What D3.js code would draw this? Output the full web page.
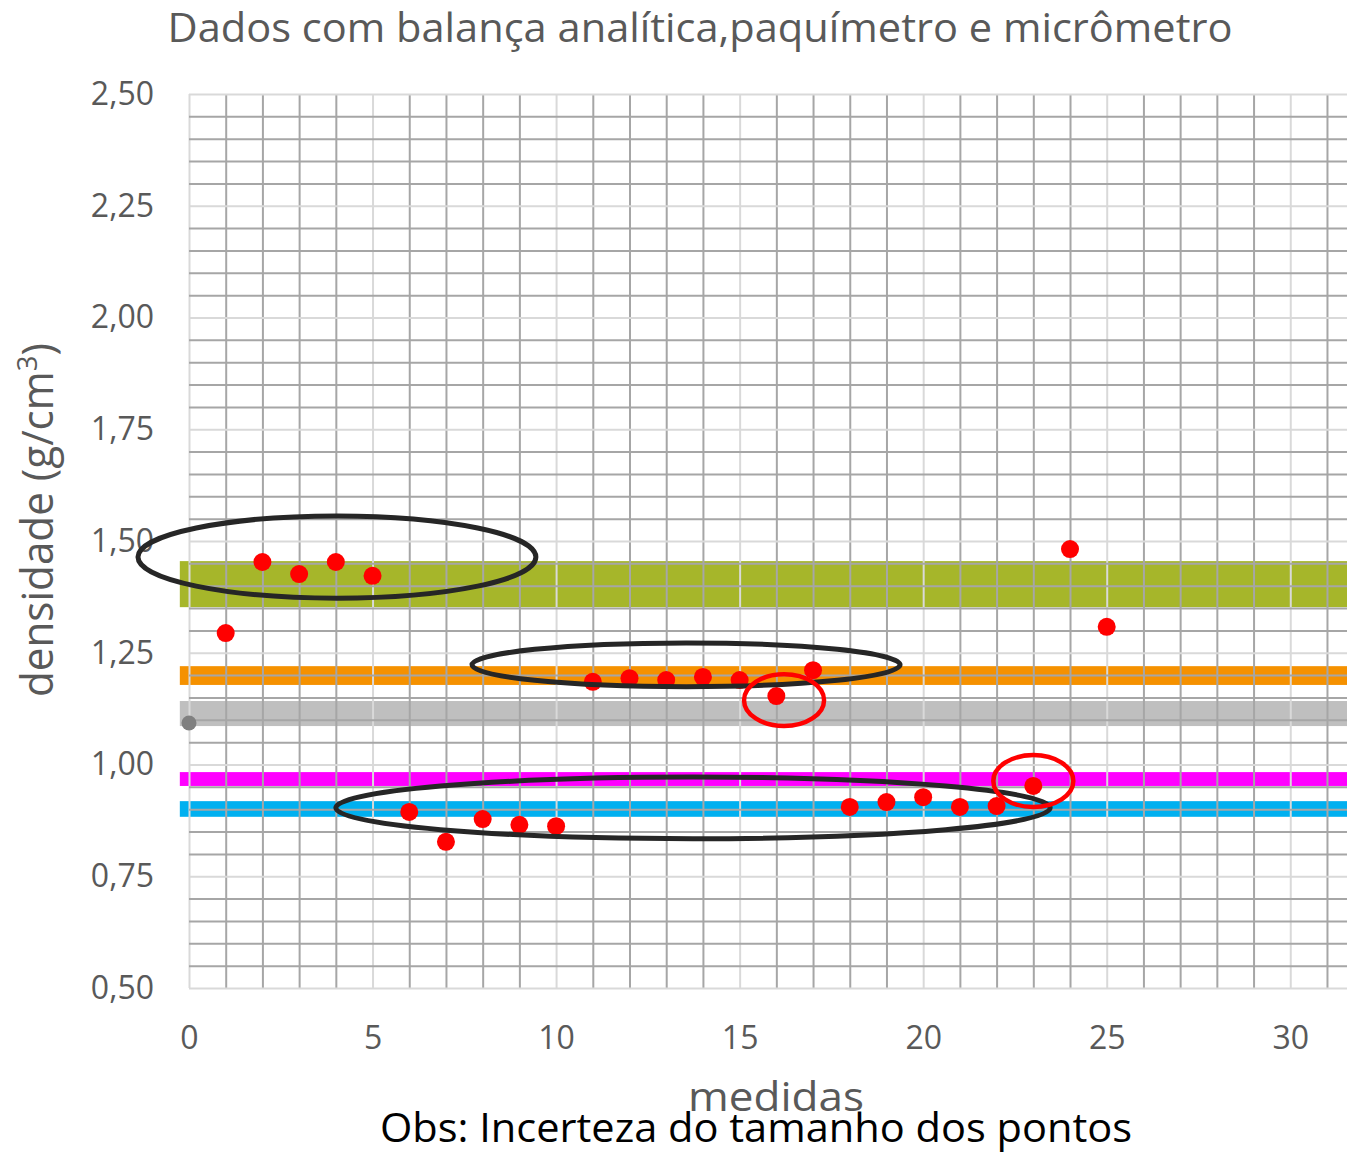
<!DOCTYPE html>
<html>
<head>
<meta charset="utf-8">
<script src="https://cdn.jsdelivr.net/npm/d3@7"></script>
<style>
  body { margin: 0; background: #fff; }
  svg { display: block; font-family: "Open Sans", sans-serif; }
</style>
</head>
<body>
<svg id="plot"></svg>
<script>
// dados
const medidas = d3.range(1, 26);
const densidades = [1.294, 1.453, 1.426, 1.453, 1.422, 0.894, 0.827, 0.878, 0.865, 0.862,
  1.185, 1.193, 1.189, 1.196, 1.189, 1.153, 1.211, 0.905, 0.916, 0.927,
  0.905, 0.907, 0.952, 1.482, 1.308];
const pontoRef = [0, 1.093];

// faixas horizontais (min, max)
const faixaMin = [1.352, 1.178, 1.086, 0.952, 0.883];
const faixaMax = [1.455, 1.220, 1.142, 0.983, 0.918];
const faixaCores = ["#a6b62a", "#f59100", "#bfbfbf", "#ff00ff", "#00b0f0"];

// elipses de anotacao (centro x, centro y, raio x, raio y)
const elipsesPretas = [[4.03, 1.464, 5.42, 0.092], [13.54, 1.223, 5.83, 0.049], [13.73, 0.903, 9.73, 0.069]];
const elipsesVermelhas = [[16.21, 1.144, 1.09, 0.058], [23.0, 0.963, 1.09, 0.058]];

const xTicks = [0, 5, 10, 15, 20, 25, 30];
const yTicks = [0.5, 0.75, 1.0, 1.25, 1.5, 1.75, 2.0, 2.25, 2.5];

let dimensions = {
  width: 1347,
  height: 1152,
  left: 189,
  top: 94,
  bottom: 988,
  right: 1349,
};

const svg = d3.select("#plot")
  .attr("width", dimensions.width)
  .attr("height", dimensions.height);

const x = d3.scaleLinear().domain([0, 31.6]).range([dimensions.left, dimensions.right]);
const y = d3.scaleLinear().domain([0.5, 2.5]).range([dimensions.bottom, dimensions.top]);

const br = d3.formatLocale({ decimal: ",", thousands: ".", grouping: [3], currency: ["", ""] });

// faixas
svg.append("g").selectAll("rect")
  .data(faixaMin)
  .join("rect")
  .attr("x", x(-0.25))
  .attr("width", dimensions.width - x(-0.25))
  .attr("y", (d, i) => y(faixaMax[i]))
  .attr("height", (d, i) => y(d) - y(faixaMax[i]))
  .attr("fill", (d, i) => faixaCores[i]);

// grade
const gridH = dimensions.bottom - dimensions.top;
const gridW = dimensions.right - dimensions.left;
const isMajorX = (v) => Math.abs(v % 5) < 1e-6;
const isMajorY = (v) => Math.abs(((v - 0.5) / 0.25) - Math.round((v - 0.5) / 0.25)) < 1e-6;

const gx = svg.append("g")
  .attr("transform", `translate(0, ${dimensions.bottom})`)
  .call(d3.axisBottom(x).tickValues(d3.range(0, 32)).tickSize(-gridH).tickFormat(""));
gx.select(".domain").remove();
gx.selectAll("line")
  .attr("stroke", (d) => isMajorX(d) ? "#d9d9d9" : "#a6a6a6")
  .attr("stroke-width", 2);

const gy = svg.append("g")
  .attr("transform", `translate(${dimensions.left}, 0)`)
  .call(d3.axisLeft(y).tickValues(d3.range(0, 41).map((i) => 0.5 + i * 0.05)).tickSize(-gridW).tickFormat(""));
gy.select(".domain").remove();
gy.selectAll("line")
  .attr("stroke", (d) => isMajorY(d) ? "#d9d9d9" : "#a6a6a6")
  .attr("stroke-width", 2);

// rotulos dos eixos
const ax = svg.append("g")
  .attr("transform", `translate(0, ${dimensions.bottom})`)
  .call(d3.axisBottom(x).tickValues(xTicks).tickSize(0).tickPadding(38).tickFormat(d3.format("d")));
ax.select(".domain").remove();
ax.selectAll("text").attr("font-size", 32).attr("fill", "#595959").attr("font-family", "Open Sans");

const ay = svg.append("g")
  .attr("transform", `translate(${dimensions.left}, 0)`)
  .call(d3.axisLeft(y).tickValues(yTicks).tickSize(0).tickPadding(35).tickFormat(br.format(".2f")));
ay.select(".domain").remove();
ay.selectAll("text").attr("font-size", 32).attr("fill", "#595959").attr("font-family", "Open Sans");

// ponto de referencia
svg.append("circle")
  .attr("cx", x(pontoRef[0]))
  .attr("cy", y(pontoRef[1]))
  .attr("r", 7.5)
  .attr("fill", "#808080");

// medidas
svg.append("g").selectAll("circle")
  .data(densidades)
  .join("circle")
  .attr("cx", (d, i) => x(medidas[i]))
  .attr("cy", (d) => y(d))
  .attr("r", 9)
  .attr("fill", "#ff0000");

// anotacoes
const elipse = (g, data, cor, largura) => {
  g.selectAll("ellipse")
    .data(data)
    .join("ellipse")
    .attr("cx", (d) => x(d[0]))
    .attr("cy", (d) => y(d[1]))
    .attr("rx", (d) => x(d[2]) - x(0))
    .attr("ry", (d) => y(0.5) - y(0.5 + d[3]))
    .attr("fill", "none")
    .attr("stroke", cor)
    .attr("stroke-width", largura);
};
elipse(svg.append("g"), elipsesPretas, "#262626", 5);
elipse(svg.append("g"), elipsesVermelhas, "#ff0000", 4.5);

// titulos
svg.append("text")
  .attr("x", 700).attr("y", 42)
  .attr("text-anchor", "middle")
  .attr("font-size", 41)
  .attr("fill", "#595959")
  .attr("textLength", 1065)
  .attr("lengthAdjust", "spacingAndGlyphs")
  .text("Dados com balança analítica,paquímetro e micrômetro");

const yl = svg.append("text")
  .attr("transform", "translate(53, 520) rotate(-90)")
  .attr("text-anchor", "middle")
  .attr("font-size", 43)
  .attr("fill", "#595959")
  .attr("textLength", 354)
  .attr("lengthAdjust", "spacingAndGlyphs");
yl.append("tspan").text("densidade (g/cm");
yl.append("tspan").attr("dy", -16).attr("font-size", 28).text("3");
yl.append("tspan").attr("dy", 16).text(")");

svg.append("text")
  .attr("x", 776).attr("y", 1111)
  .attr("text-anchor", "middle")
  .attr("font-size", 41)
  .attr("fill", "#595959")
  .attr("textLength", 176)
  .attr("lengthAdjust", "spacingAndGlyphs")
  .text("medidas");

svg.append("text")
  .attr("x", 756).attr("y", 1142)
  .attr("text-anchor", "middle")
  .attr("font-size", 41)
  .attr("fill", "#000")
  .attr("textLength", 752)
  .attr("lengthAdjust", "spacingAndGlyphs")
  .text("Obs: Incerteza do tamanho dos pontos");
</script>
</body>
</html>
